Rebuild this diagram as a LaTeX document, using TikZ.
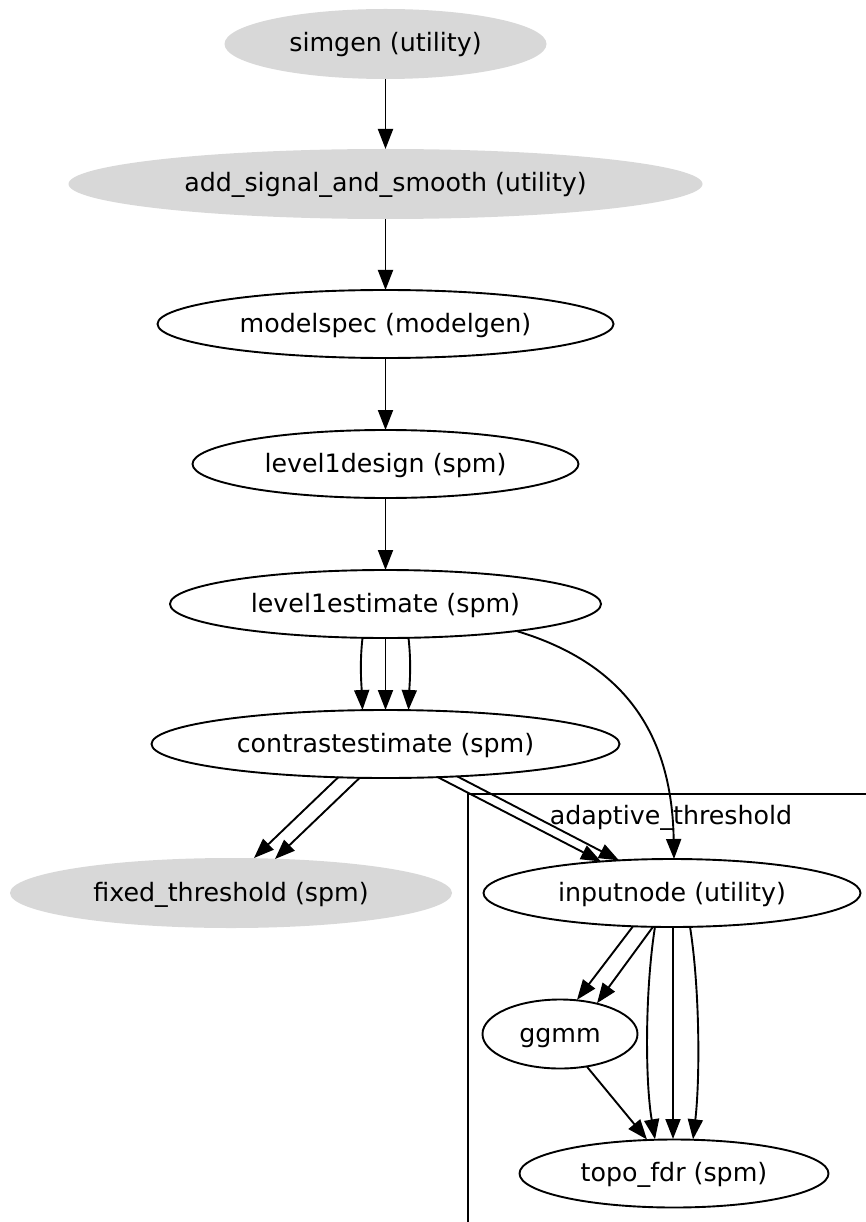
\documentclass[tikz,border=0pt]{standalone}
\usepackage{fontspec}
\setmainfont{DejaVu Sans}
\usetikzlibrary{shapes.geometric,arrows.meta,calc}
\definecolor{nodegray}{HTML}{D8D8D8}
\begin{document}
\begin{tikzpicture}[x=1pt,y=-1pt,
  font=\fontsize{25.3}{30}\selectfont,
  every node/.style={inner sep=0pt,outer sep=0pt,text height=20pt,text depth=4pt},
  task/.style={ellipse,draw,line width=1.9pt,minimum height=68pt},
  util/.style={ellipse,fill=nodegray,draw=none,minimum height=70pt},
  edge/.style={line width=1.9pt,-{Triangle[length=20pt,width=15pt]}},
  frame/.style={line width=1.9pt}]
\useasboundingbox (0,0) rectangle (866,1222);
\begin{scope}
\clip (0,0) rectangle (866,1222);
% cluster frame, partly outside the page
\draw[frame] (468,794) rectangle (900,1260);
\end{scope}
\node (clabel) at (671,816) {adaptive\_threshold};

% nodes
\node[util,minimum width=322pt] (simgen) at (385.5,44) {simgen (utility)};
\node[util,minimum width=634pt] (add) at (385.5,184) {add\_signal\_and\_smooth (utility)};
\node[task,minimum width=456pt] (model) at (385.5,324) {modelspec (modelgen)};
\node[task,minimum width=386pt] (design) at (385.5,464) {level1design (spm)};
\node[task,minimum width=431pt] (est) at (385.5,604) {level1estimate (spm)};
\node[task,minimum width=468pt] (con) at (385.5,744) {contrastestimate (spm)};
\node[util,minimum width=442pt] (fixed) at (231,893) {fixed\_threshold (spm)};
\node[task,minimum width=377pt] (inp) at (672,893) {inputnode (utility)};
\node[task,minimum width=155pt,minimum height=69pt] (ggmm) at (560,1034) {ggmm};
\node[task,minimum width=309pt] (topo) at (674,1173.5) {topo\_fdr (spm)};

% main chain
\draw[edge] (simgen) -- (add);
\draw[edge] (add) -- (model);
\draw[edge] (model) -- (design);
\draw[edge] (design) -- (est);

% level1estimate -> contrastestimate
\draw[edge] ($(est)+(-23,34)$) .. controls +(-3,26) and +(-1,-25) .. ($(con)+(-23,-34)$);
\draw[edge] (est) -- (con);
\draw[edge] ($(est)+(23,34)$) .. controls +(3,26) and +(1,-25) .. ($(con)+(23,-34)$);

% level1estimate -> inputnode
\draw[edge] ($(est)+(131,27)$) .. controls +(113.5,34) and +(-2,-119) .. ($(inp)+(2,-34)$);

% contrastestimate -> fixed_threshold
\draw[edge] ($(con)+(-47,33)$) -- ($(fixed)+(23,-35)$);
\draw[edge] ($(con)+(-26,34)$) -- ($(fixed)+(44,-34)$);

% contrastestimate -> inputnode
\draw[edge] ($(con)+(52,33)$) -- ($(inp)+(-71,-31.5)$);
\draw[edge] ($(con)+(72,32.5)$) -- ($(inp)+(-53,-32.6)$);

% inputnode -> ggmm
\draw[edge] ($(inp)+(-39,33.3)$) -- ($(ggmm)+(17,-34.2)$);
\draw[edge] ($(inp)+(-19,33.8)$) -- ($(ggmm)+(37,-30.8)$);

% inputnode -> topo_fdr
\draw[edge] ($(inp)+(-17,33.8)$) .. controls +(-10,63) and +(-10,-59) .. ($(topo)+(-19,-34.2)$);
\draw[edge] ($(inp)+(1,34)$) -- ($(topo)+(-1,-34.5)$);
\draw[edge] ($(inp)+(18,33.8)$) .. controls +(10,63) and +(7,-59) .. ($(topo)+(19,-34.2)$);

% ggmm -> topo_fdr
\draw[edge] ($(ggmm)+(27,32.8)$) -- ($(topo)+(-27,-34)$);
\end{tikzpicture}
\end{document}
